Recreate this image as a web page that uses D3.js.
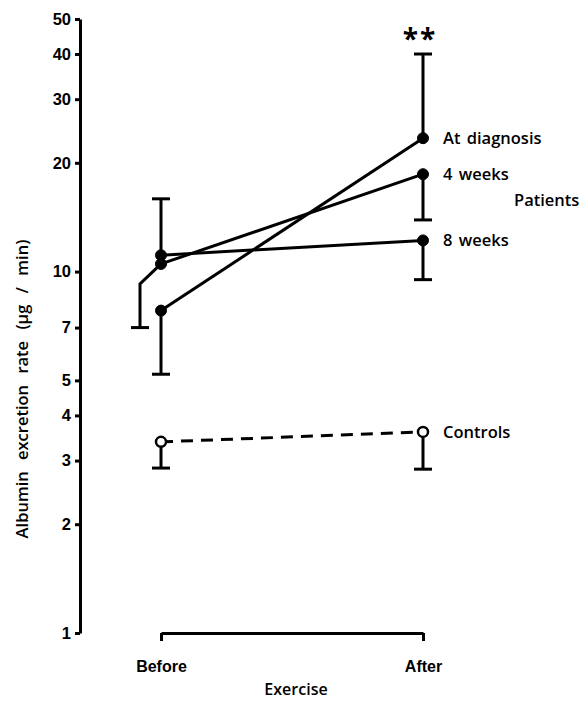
<!DOCTYPE html>
<html><head><meta charset="utf-8">
<script src="https://cdn.jsdelivr.net/npm/d3@7"></script>
<style>
html,body{margin:0;padding:0;background:#fff;}
svg{display:block;font-family:"Open Sans",sans-serif;}
</style></head>
<body><svg id="c" width="583" height="701"></svg>
<script>
// ---- data ----
const categories = ["Before", "After"];
const seriesNames = ["At diagnosis", "4 weeks", "8 weeks", "Controls"];
const atDiagnosis = [7.8, 23.4];
const weeks4 = [10.5, 18.6];
const weeks8 = [11.1, 12.2];
const controls = [3.38, 3.6];
// error-bar ends
const atDiagnosisErr = [5.2, 40];
const weeks4Err = [7.0, 13.9];
const weeks8Err = [15.9, 9.5];
const controlsErr = [2.86, 2.84];
const yTicks = [1, 2, 3, 4, 5, 7, 10, 20, 30, 40, 50];
const yLabel = "Albumin excretion rate (\u03bcg / min)";
const xLabel = "Exercise";
const groupLabel = "Patients";
const sigMark = "**";

const svg = d3.select("#c");
const x = d3.scalePoint().domain(categories).range([161, 423]);
const y = d3.scaleLog().domain([1, 50]).range([633, 19]);

const series = [
  {name: seriesNames[0], v: atDiagnosis, e: atDiagnosisErr, open: false},
  {name: seriesNames[1], v: weeks4, e: weeks4Err, open: false},
  {name: seriesNames[2], v: weeks8, e: weeks8Err, open: false},
  {name: seriesNames[3], v: controls, e: controlsErr, open: true}
];

// axes
const yAxis = svg.append("g").attr("transform", "translate(80,0)")
  .call(d3.axisLeft(y).tickValues(yTicks).tickFormat(d3.format("d")).tickSize(5).tickSizeOuter(0).tickPadding(4));
yAxis.select(".domain").attr("stroke-width", 3);
yAxis.selectAll(".tick line").attr("stroke-width", 3);
yAxis.selectAll("text").attr("font-size", 16.5).attr("font-weight", 700).attr("fill", "#000");

const xAxis = svg.append("g").attr("transform", "translate(0,633)")
  .call(d3.axisBottom(x).tickSize(8).tickSizeOuter(0).tickPadding(20));
xAxis.select(".domain").attr("stroke-width", 3);
xAxis.selectAll(".tick line").attr("stroke-width", 3);
xAxis.selectAll("text").attr("font-size", 16).attr("font-weight", 700).attr("fill", "#000");

svg.append("text").attr("x", (x("Before") + x("After")) / 2 + 4).attr("y", 695)
  .attr("text-anchor", "middle").attr("font-size", 16).attr("font-weight", 600).text(xLabel);

svg.append("text").attr("transform", "translate(28,389) rotate(-90)")
  .attr("text-anchor", "middle").attr("font-size", 16.5).attr("font-weight", 600)
  .attr("word-spacing", 7).text(yLabel);

// error bars
const cap = 9;
series.forEach((s, si) => {
  s.e.forEach((ev, i) => {
    if (ev == null) return;
    const cx = x(categories[i]);
    const y0 = y(s.v[i]), y1 = y(ev);
    if (si === 1 && i === 0) {
      // offset error bar
      const ox = cx - 21;
      svg.append("path").attr("d", `M${cx},${y0} L${ox},${y0 + 20} L${ox},${y1}`)
        .attr("fill", "none").attr("stroke", "#000").attr("stroke-width", 3);
      svg.append("line").attr("x1", ox - cap).attr("x2", ox + cap).attr("y1", y1).attr("y2", y1)
        .attr("stroke", "#000").attr("stroke-width", 3);
    } else {
      svg.append("line").attr("x1", cx).attr("x2", cx).attr("y1", y0).attr("y2", y1)
        .attr("stroke", "#000").attr("stroke-width", 3);
      svg.append("line").attr("x1", cx - cap).attr("x2", cx + cap).attr("y1", y1).attr("y2", y1)
        .attr("stroke", "#000").attr("stroke-width", 3);
    }
  });
});

// lines
const line = d3.line().x((d, i) => x(categories[i])).y(d => y(d));
series.forEach(s => {
  svg.append("path").datum(s.v).attr("d", line).attr("fill", "none")
    .attr("stroke", "#000").attr("stroke-width", 3)
    .attr("stroke-dasharray", s.open ? "12,8" : null);
});

// points
series.forEach(s => {
  svg.selectAll(null).data(s.v).enter().append("circle")
    .attr("cx", (d, i) => x(categories[i])).attr("cy", d => y(d))
    .attr("r", s.open ? 5 : 5.5)
    .attr("fill", s.open ? "#fff" : "#000")
    .attr("stroke", "#000").attr("stroke-width", s.open ? 2.5 : 1);
});

// series labels
series.forEach(s => {
  svg.append("text").attr("x", x("After") + 20).attr("y", y(s.v[1]))
    .attr("dy", "0.35em").attr("font-size", 16.5).attr("font-weight", 600)
    .attr("word-spacing", 2).text(s.name);
});
svg.append("text").attr("x", 514).attr("y", 200).attr("dy", "0.35em")
  .attr("font-size", 16.5).attr("font-weight", 600).text(groupLabel);
svg.append("text").attr("x", x("After") - 3).attr("y", 49)
  .attr("text-anchor", "middle").attr("font-size", 28).attr("font-weight", 700)
  .attr("letter-spacing", 2).text(sigMark);
</script></body></html>
